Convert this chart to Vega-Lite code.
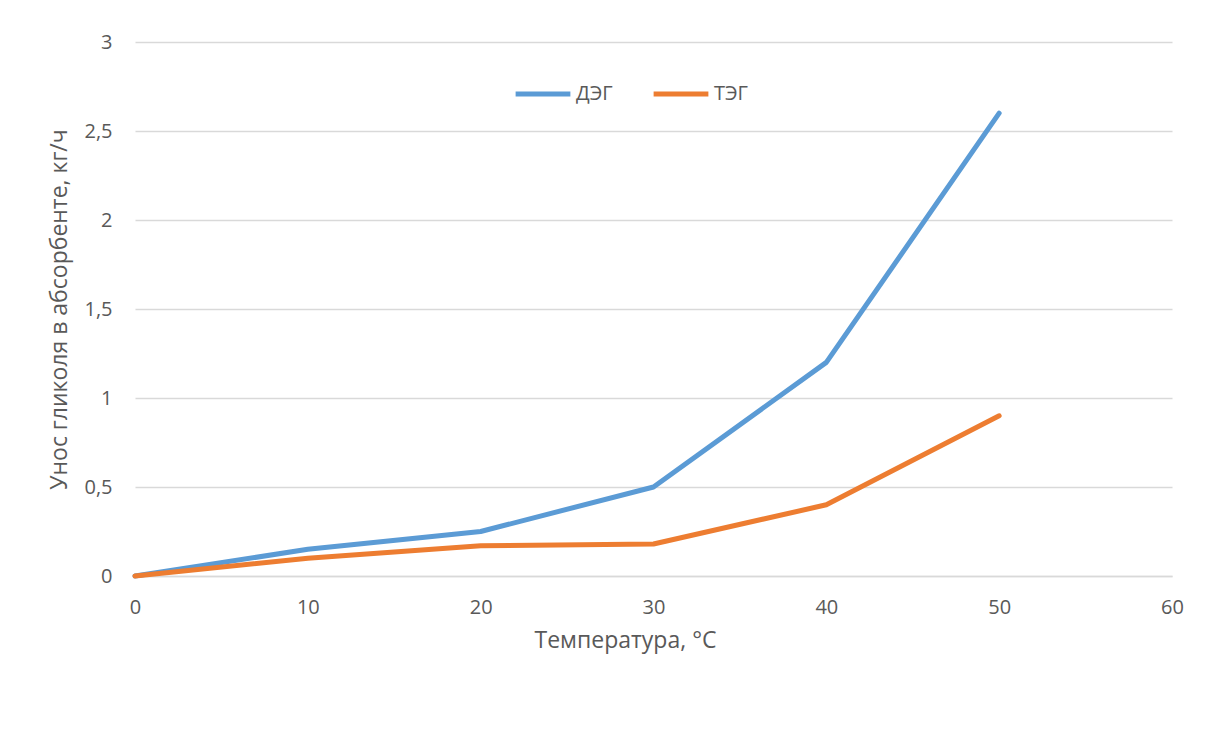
{
  "$schema": "https://vega.github.io/schema/vega-lite/v6.json",
  "autosize": {"type": "none"},
  "width": 1037,
  "height": 534,
  "padding": {"left": 135, "top": 42, "right": 34, "bottom": 171},
  "background": "white",
  "data": {
    "values": [
      {"t": 0, "v": 0, "s": "ДЭГ"},
      {"t": 10, "v": 0.15, "s": "ДЭГ"},
      {"t": 20, "v": 0.25, "s": "ДЭГ"},
      {"t": 30, "v": 0.5, "s": "ДЭГ"},
      {"t": 40, "v": 1.2, "s": "ДЭГ"},
      {"t": 50, "v": 2.6, "s": "ДЭГ"},
      {"t": 0, "v": 0, "s": "ТЭГ"},
      {"t": 10, "v": 0.1, "s": "ТЭГ"},
      {"t": 20, "v": 0.17, "s": "ТЭГ"},
      {"t": 30, "v": 0.18, "s": "ТЭГ"},
      {"t": 40, "v": 0.4, "s": "ТЭГ"},
      {"t": 50, "v": 0.9, "s": "ТЭГ"}
    ]
  },
  "mark": {"type": "line", "strokeWidth": 5, "strokeCap": "round", "strokeJoin": "round"},
  "encoding": {
    "x": {
      "field": "t", "type": "quantitative",
      "scale": {"domain": [0, 60], "nice": false},
      "axis": {
        "title": "Температура, °C",
        "values": [0, 10, 20, 30, 40, 50, 60],
        "grid": false, "ticks": false, "domain": true,
        "domainColor": "#d9d9d9", "domainWidth": 1.5,
        "labelFlush": false, "labelBound": false, "labelOverlap": false,
        "labelPadding": 21, "titlePadding": 12,
        "titleX": 490
      }
    },
    "y": {
      "field": "v", "type": "quantitative",
      "scale": {"domain": [0, 3], "nice": false},
      "axis": {
        "title": "Унос гликоля в абсорбенте, кг/ч",
        "values": [0, 0.5, 1, 1.5, 2, 2.5, 3],
        "labelExpr": "replace(format(datum.value, '~g'), '.', ',')",
        "grid": true, "gridColor": "#d9d9d9", "gridWidth": 1.5,
        "ticks": false, "domain": false,
        "labelFlush": false, "labelOverlap": false,
        "labelPadding": 23, "titlePadding": 12
      }
    },
    "color": {
      "field": "s", "type": "nominal",
      "scale": {"domain": ["ДЭГ", "ТЭГ"], "range": ["#5B9BD5", "#ED7D31"]},
      "legend": {
        "title": null,
        "orient": "none",
        "legendX": 378,
        "legendY": 22,
        "direction": "horizontal",
        "symbolType": "stroke",
        "symbolSize": 3000,
        "symbolStrokeWidth": 5,
        "labelOffset": 3,
        "columnPadding": 30
      }
    }
  },
  "config": {
    "view": {"stroke": null},
    "font": "Open Sans",
    "axis": {
      "labelFont": "Open Sans", "labelFontSize": 20, "labelColor": "#595959",
      "titleFont": "Open Sans", "titleFontSize": 23, "titleColor": "#595959", "titleFontWeight": "normal"
    },
    "legend": {"labelFont": "Open Sans", "labelFontSize": 20, "labelColor": "#595959"}
  }
}
